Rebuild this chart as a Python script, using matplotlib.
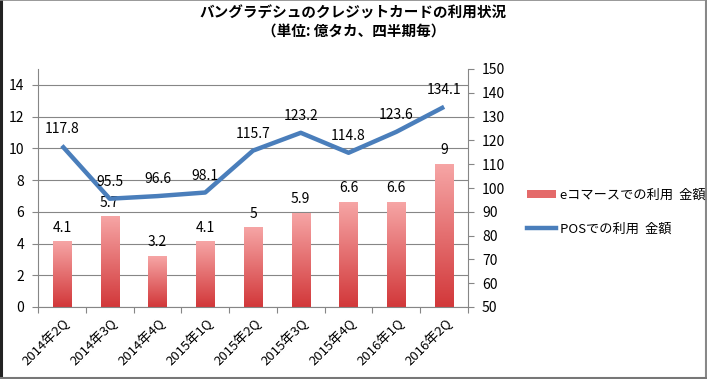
import numpy as np
import matplotlib.pyplot as plt
from matplotlib.colors import LinearSegmentedColormap
from matplotlib.patches import Rectangle
from matplotlib.lines import Line2D

plt.rcParams['font.family'] = ['Noto Sans CJK JP', 'DejaVu Sans']

# data
quarters = ['2014年2Q', '2014年3Q', '2014年4Q', '2015年1Q', '2015年2Q',
            '2015年3Q', '2015年4Q', '2016年1Q', '2016年2Q']
ecommerce = [4.1, 5.7, 3.2, 4.1, 5, 5.9, 6.6, 6.6, 9]
pos = [117.8, 95.5, 96.6, 98.1, 115.7, 123.2, 114.8, 123.6, 134.1]
left_ticks = [0, 2, 4, 6, 8, 10, 12, 14]
right_ticks = [50, 60, 70, 80, 90, 100, 110, 120, 130, 140, 150]

bar_top = '#f6a5a5'
bar_bottom = '#d2383a'
line_color = '#4a7ebb'
axis_gray = '#868686'

fig = plt.figure(figsize=(7.07, 3.79), dpi=100)
ax1 = fig.add_axes([38 / 707, 1 - 307 / 379, 430 / 707, 238 / 379])
ax2 = ax1.twinx()

x = np.arange(len(quarters))
w = 0.38
grad = LinearSegmentedColormap.from_list('bar', [bar_bottom, bar_top])
g = np.linspace(0, 1, 100).reshape(-1, 1)

ax1.yaxis.grid(True, color=axis_gray, linewidth=0.8)
ax1.set_axisbelow(True)

for xi, v in zip(x, ecommerce):
    ax1.imshow(g, cmap=grad, origin='lower', aspect='auto',
               extent=[xi - w / 2, xi + w / 2, 0, v], zorder=2)
    ax1.annotate(f'{v:g}', (xi, v), xytext=(0, 5), textcoords='offset points',
                 ha='center', va='bottom', fontsize=10)
ax1.set_xlim(-0.5, len(quarters) - 0.5)
ax1.set_ylim(0, 15)
ax1.set_yticks(left_ticks)

ax2.plot(x, pos, color=line_color, linewidth=3.2, solid_capstyle='butt', zorder=3)
for xi, v in zip(x, pos):
    ax2.annotate(f'{v:g}', (xi, v), xytext=(0, 7), textcoords='offset points',
                 ha='center', va='bottom', fontsize=10)
ax2.set_ylim(50, 150)
ax2.set_yticks(right_ticks)

# category ticks at boundaries, labels at centers
ax1.set_xticks(np.arange(-0.5, len(quarters), 1.0))
ax1.set_xticklabels([])
ax1.set_xticks(x, minor=True)
ax1.set_xticklabels(quarters, minor=True, rotation=45, ha='right', va='top',
                    rotation_mode='anchor', fontsize=9.5)
ax1.tick_params(axis='x', which='minor', length=0, pad=6)
ax1.tick_params(axis='x', which='major', length=4, color=axis_gray)
ax1.tick_params(axis='y', length=4, color=axis_gray, labelsize=10, pad=6)
ax2.tick_params(axis='y', length=4, color=axis_gray, labelsize=10, pad=6)

for ax in (ax1, ax2):
    ax.spines['top'].set_visible(False)
    for s in ('left', 'right', 'bottom'):
        ax.spines[s].set_color(axis_gray)
ax1.spines['right'].set_visible(False)
ax2.spines['left'].set_visible(False)
ax2.spines['bottom'].set_visible(False)

fig.text(0.5, 1 - 22 / 379, 'バングラデシュのクレジットカードの利用状況\n（単位: 億タカ、四半期毎）',
         ha='center', va='center', fontsize=10.5, fontweight='bold', linespacing=1.2)

handles = [Rectangle((0, 0), 1, 1, facecolor='#e46a6a', edgecolor='none'),
           Line2D([0], [0], color=line_color, linewidth=3.2)]
fig.legend(handles, ['eコマースでの利用  金額', 'POSでの利用  金額'],
           loc='center left', bbox_to_anchor=(515 / 707, 1 - 212 / 379),
           frameon=False, fontsize=9.5, handlelength=2.2, handleheight=0.5,
           labelspacing=1.6, handletextpad=0.3)

# outer frame: dark left edge, gray elsewhere
fig.add_artist(Line2D([0.002, 0.002], [0, 1], color='#222222', linewidth=2.2))
fig.add_artist(Line2D([0, 1], [0.999, 0.999], color='#888888', linewidth=1.2))
fig.add_artist(Line2D([0.999, 0.999], [0, 1], color='#888888', linewidth=1.5))
fig.add_artist(Line2D([0, 1], [0.002, 0.002], color='#777777', linewidth=1.5))

fig.savefig('out.png', dpi=100)
